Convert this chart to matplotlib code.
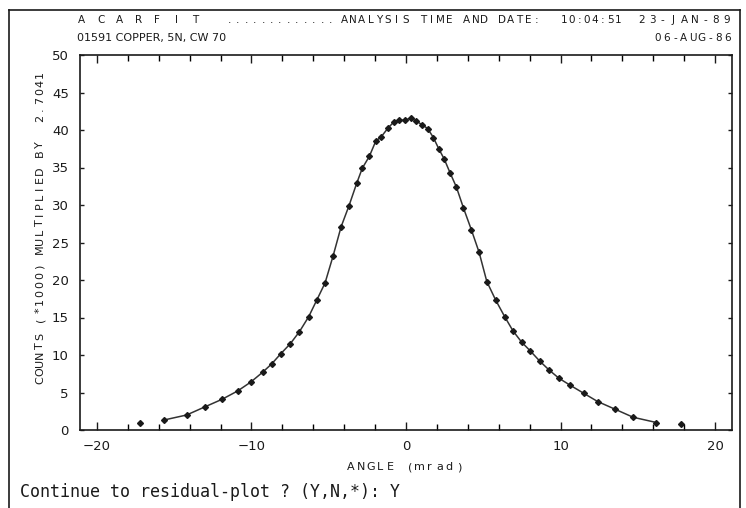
import numpy as np
import matplotlib.pyplot as plt
from matplotlib.ticker import MultipleLocator

W, H = 746, 508

# fitted profile (points joined by the curve)
angle = [-15.67, -14.2, -13.0, -11.9, -10.9, -10.04, -9.28, -8.7, -8.09, -7.49,
         -6.9, -6.3, -5.78, -5.24, -4.72, -4.2, -3.69, -3.19, -2.83, -2.37,
         -1.96, -1.6, -1.15, -0.77, -0.44, -0.07, 0.3, 0.66, 1.04, 1.4,
         1.77, 2.12, 2.48, 2.85, 3.26, 3.72, 4.23, 4.73, 5.23, 5.81,
         6.39, 6.93, 7.49, 8.02, 8.65, 9.26, 9.9, 10.6, 11.5, 12.4,
         13.5, 14.7, 16.2]
counts = [1.33, 2.0, 3.1, 4.1, 5.2, 6.4, 7.7, 8.8, 10.2, 11.5,
          13.1, 15.1, 17.3, 19.6, 23.2, 27.1, 29.9, 32.9, 34.9, 36.5,
          38.5, 39.1, 40.3, 41.1, 41.3, 41.3, 41.6, 41.2, 40.7, 40.2,
          39.0, 37.5, 36.1, 34.3, 32.4, 29.6, 26.7, 23.7, 19.8, 17.3,
          15.1, 13.2, 11.7, 10.6, 9.2, 8.0, 6.9, 6.0, 4.9, 3.8,
          2.8, 1.7, 1.0]

# points outside the fit range
angle_out = [-17.2, 17.8]
counts_out = [0.9, 0.75]

xticks = [-20, -10, 0, 10, 20]
yticks = [0, 5, 10, 15, 20, 25, 30, 35, 40, 45, 50]

ink = '#1a1a1a'


def fx(px):
    return px / W


def fy(py):
    return 1 - py / H


def plotter_text(x0, x1, y, s, size=8, vertical=False, xc=0):
    # plotter style: every character in its own fixed cell
    n = len(s)
    for i, ch in enumerate(s):
        if ch == ' ':
            continue
        c = x0 + (i + 0.5) * (x1 - x0) / n
        if vertical:
            fig.text(fx(xc), fy(c), ch, rotation=90, ha='center', va='center',
                     fontsize=size, color=ink)
        else:
            fig.text(fx(c), fy(y), ch, ha='center', va='center',
                     fontsize=size, color=ink)


fig = plt.figure(figsize=(W / 100, H / 100), dpi=100)
ax = fig.add_axes([fx(80), fy(430), fx(732) - fx(80), fy(55) - fy(430)])

ax.plot(angle, counts, '-', color='#333333', lw=1.1, zorder=2)
ax.plot(angle, counts, 'D', color=ink, ms=3.0, zorder=3)
ax.plot(angle_out, counts_out, 'D', color=ink, ms=3.0, zorder=3)

ax.set_xlim(-21.1, 21.1)
ax.set_ylim(0, 50)
ax.set_xticks(xticks)
ax.set_yticks(yticks)
ax.xaxis.set_minor_locator(MultipleLocator(2))

for s in ax.spines.values():
    s.set_linewidth(1.2)
    s.set_color(ink)

ax.tick_params(axis='x', which='major', direction='in', length=6, width=1,
               top=True, labelsize=9.5, colors=ink, pad=7)
ax.tick_params(axis='x', which='minor', direction='in', length=4, width=1,
               top=True)
ax.tick_params(axis='y', which='major', direction='in', length=3, width=1,
               right=True, labelsize=9.5, colors=ink, pad=8)

# axis titles
plotter_text(346, 464, 467, 'ANGLE (mrad)', size=8)
plotter_text(385, 70, 0, 'COUNTS (*1000) MULTIPLIED BY  2.7041', size=8,
             vertical=True, xc=40)

# header lines
plotter_text(77, 200, 20, 'A C A R F I T', size=7.5)
plotter_text(225, 335, 20, '.............', size=7.5)
plotter_text(340, 541, 20, 'ANALYSIS TIME AND DATE:', size=7.5)
plotter_text(560, 622, 20, '10:04:51', size=7.5)
plotter_text(636, 732, 20, '23-JAN-89', size=7.5)
fig.text(fx(77), fy(38), '01591 COPPER, 5N, CW 70', fontsize=8, color=ink,
         va='center')
plotter_text(653, 732, 38, '06-AUG-86', size=7.5)

fig.text(fx(20), fy(492), 'Continue to residual-plot ? (Y,N,*): Y',
         family='DejaVu Sans Mono', fontsize=12, color=ink, va='center')

# outer screen frame
for (x0, y0, x1, y1) in [(9, 10, 9, 508), (9, 10, 740, 10), (740, 10, 740, 508)]:
    fig.add_artist(plt.Line2D([fx(x0), fx(x1)], [fy(y0), fy(y1)],
                              color=ink, lw=1.2, transform=fig.transFigure))

fig.savefig('out.png', dpi=100)
